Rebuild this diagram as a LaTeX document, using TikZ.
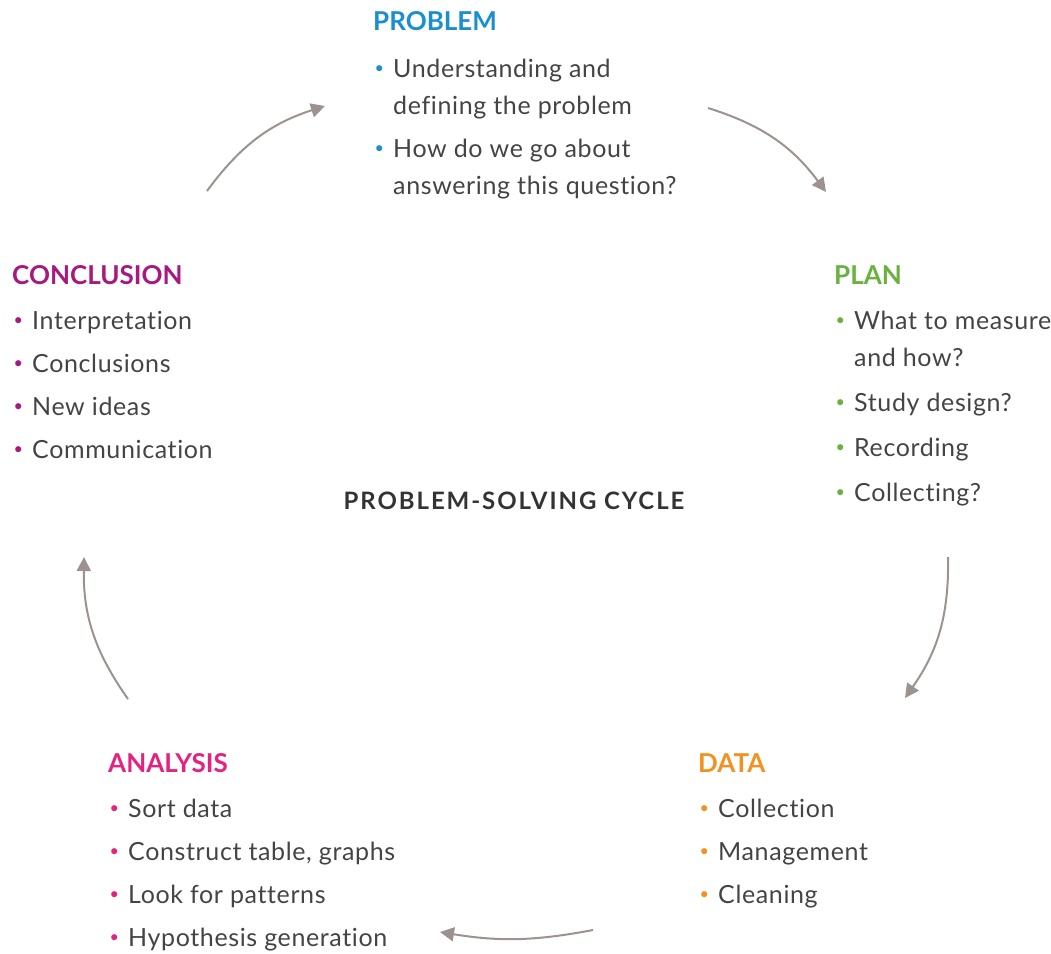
\documentclass[tikz,border=0pt]{standalone}
\usepackage{fontspec}
\setmainfont{Lato}[Ligatures=NoCommon]
\usetikzlibrary{positioning,arrows.meta}

\definecolor{probblue}{HTML}{1A8FD0}
\definecolor{plangreen}{HTML}{6AB23F}
\definecolor{dataorange}{HTML}{F39020}
\definecolor{analpink}{HTML}{E3237F}
\definecolor{conclpurple}{HTML}{A7197F}
\definecolor{bodygray}{HTML}{444444}
\definecolor{titlegray}{HTML}{333333}
\definecolor{arrowgray}{HTML}{9C938F}

% bullet in its own column
\newcommand{\bul}[1]{\makebox[20pt][l]{\hspace{1.5pt}\textcolor{#1}{\raisebox{.3ex}{\scalebox{.65}{\textbullet}}}}}

\tikzset{
  heading/.style={anchor=base west, inner sep=0pt, font=\fontsize{26}{30}\selectfont\bfseries},
  items/.style={anchor=base west, inner sep=0pt, text=bodygray,
                font=\fontsize{25}{37}\selectfont\addfontfeature{LetterSpace=2.5}},
  cycle/.style={draw=arrowgray, line width=2pt, -{Triangle[length=14pt,width=14pt]}}
}

\begin{document}
\begin{tikzpicture}[x=1pt, y=-1pt]
  \useasboundingbox (0,0) rectangle (1051,953);

  \node[heading, text=probblue]     (problem)    at (373,30)  {PROBLEM};
  \node[heading, text=plangreen]    (plan)       at (834,284) {PLAN};
  \node[heading, text=conclpurple]  (conclusion) at (12,284)  {CONCLUSION};
  \node[heading, text=analpink]     (analysis)   at (108,772) {ANALYSIS};
  \node[heading, text=dataorange]   (data)       at (698,772) {DATA};

  \node[items, below=47pt of problem.base west, anchor=base west] (problemlist)
    {\begin{tabular}[t]{@{}l@{}l@{}}
     \bul{probblue} & Understanding and\\
                    & defining the problem\\[6pt]
     \bul{probblue} & How do we go about\\
                    & answering this question?
     \end{tabular}};
  \node[items, below=45pt of plan.base west, anchor=base west] (planlist)
    {\begin{tabular}[t]{@{}l@{}l@{}}
     \bul{plangreen} & What to measure\\
                     & and how?\\[8pt]
     \bul{plangreen} & Study design?\\[8pt]
     \bul{plangreen} & Recording\\[8pt]
     \bul{plangreen} & Collecting?
     \end{tabular}};
  \node[items, below=45pt of conclusion.base west, anchor=base west] (conclusionlist)
    {\begin{tabular}[t]{@{}l@{}l@{}}
     \bul{conclpurple} & Interpretation\\[6pt]
     \bul{conclpurple} & Conclusions\\[6pt]
     \bul{conclpurple} & New ideas\\[6pt]
     \bul{conclpurple} & Communication
     \end{tabular}};
  \node[items, below=45pt of analysis.base west, anchor=base west] (analysislist)
    {\begin{tabular}[t]{@{}l@{}l@{}}
     \bul{analpink} & Sort data\\[6pt]
     \bul{analpink} & Construct table, graphs\\[6pt]
     \bul{analpink} & Look for patterns\\[6pt]
     \bul{analpink} & Hypothesis generation
     \end{tabular}};
  \node[items, below=45pt of data.base west, anchor=base west] (datalist)
    {\begin{tabular}[t]{@{}l@{}l@{}}
     \bul{dataorange} & Collection\\[6pt]
     \bul{dataorange} & Management\\[6pt]
     \bul{dataorange} & Cleaning
     \end{tabular}};

  \node[anchor=base, inner sep=0pt, text=titlegray,
        font=\fontsize{24}{28}\selectfont\bfseries\addfontfeature{LetterSpace=8}] (title) at (514,509)
    {PROBLEM-SOLVING CYCLE};

  % arrows round the cycle
  \coordinate (c1s) at (207,191);  \coordinate (c1e) at (325,106);
  \coordinate (c2s) at (708,108);  \coordinate (c2e) at (826,192);
  \coordinate (c3s) at (948,557);  \coordinate (c3e) at (905,698);
  \coordinate (c4s) at (593,930);  \coordinate (c4e) at (440,932);
  \coordinate (c5s) at (128,699);  \coordinate (c5e) at (84,557);

  \draw[cycle] (c1s) to[bend left=18] (c1e);
  \draw[cycle] (c2s) to[bend left=18] (c2e);
  \draw[cycle] (c3s) to[bend left=18] (c3e);
  \draw[cycle] (c4s) to[bend left=10] (c4e);
  \draw[cycle] (c5s) to[bend left=18] (c5e);
\end{tikzpicture}
\end{document}
